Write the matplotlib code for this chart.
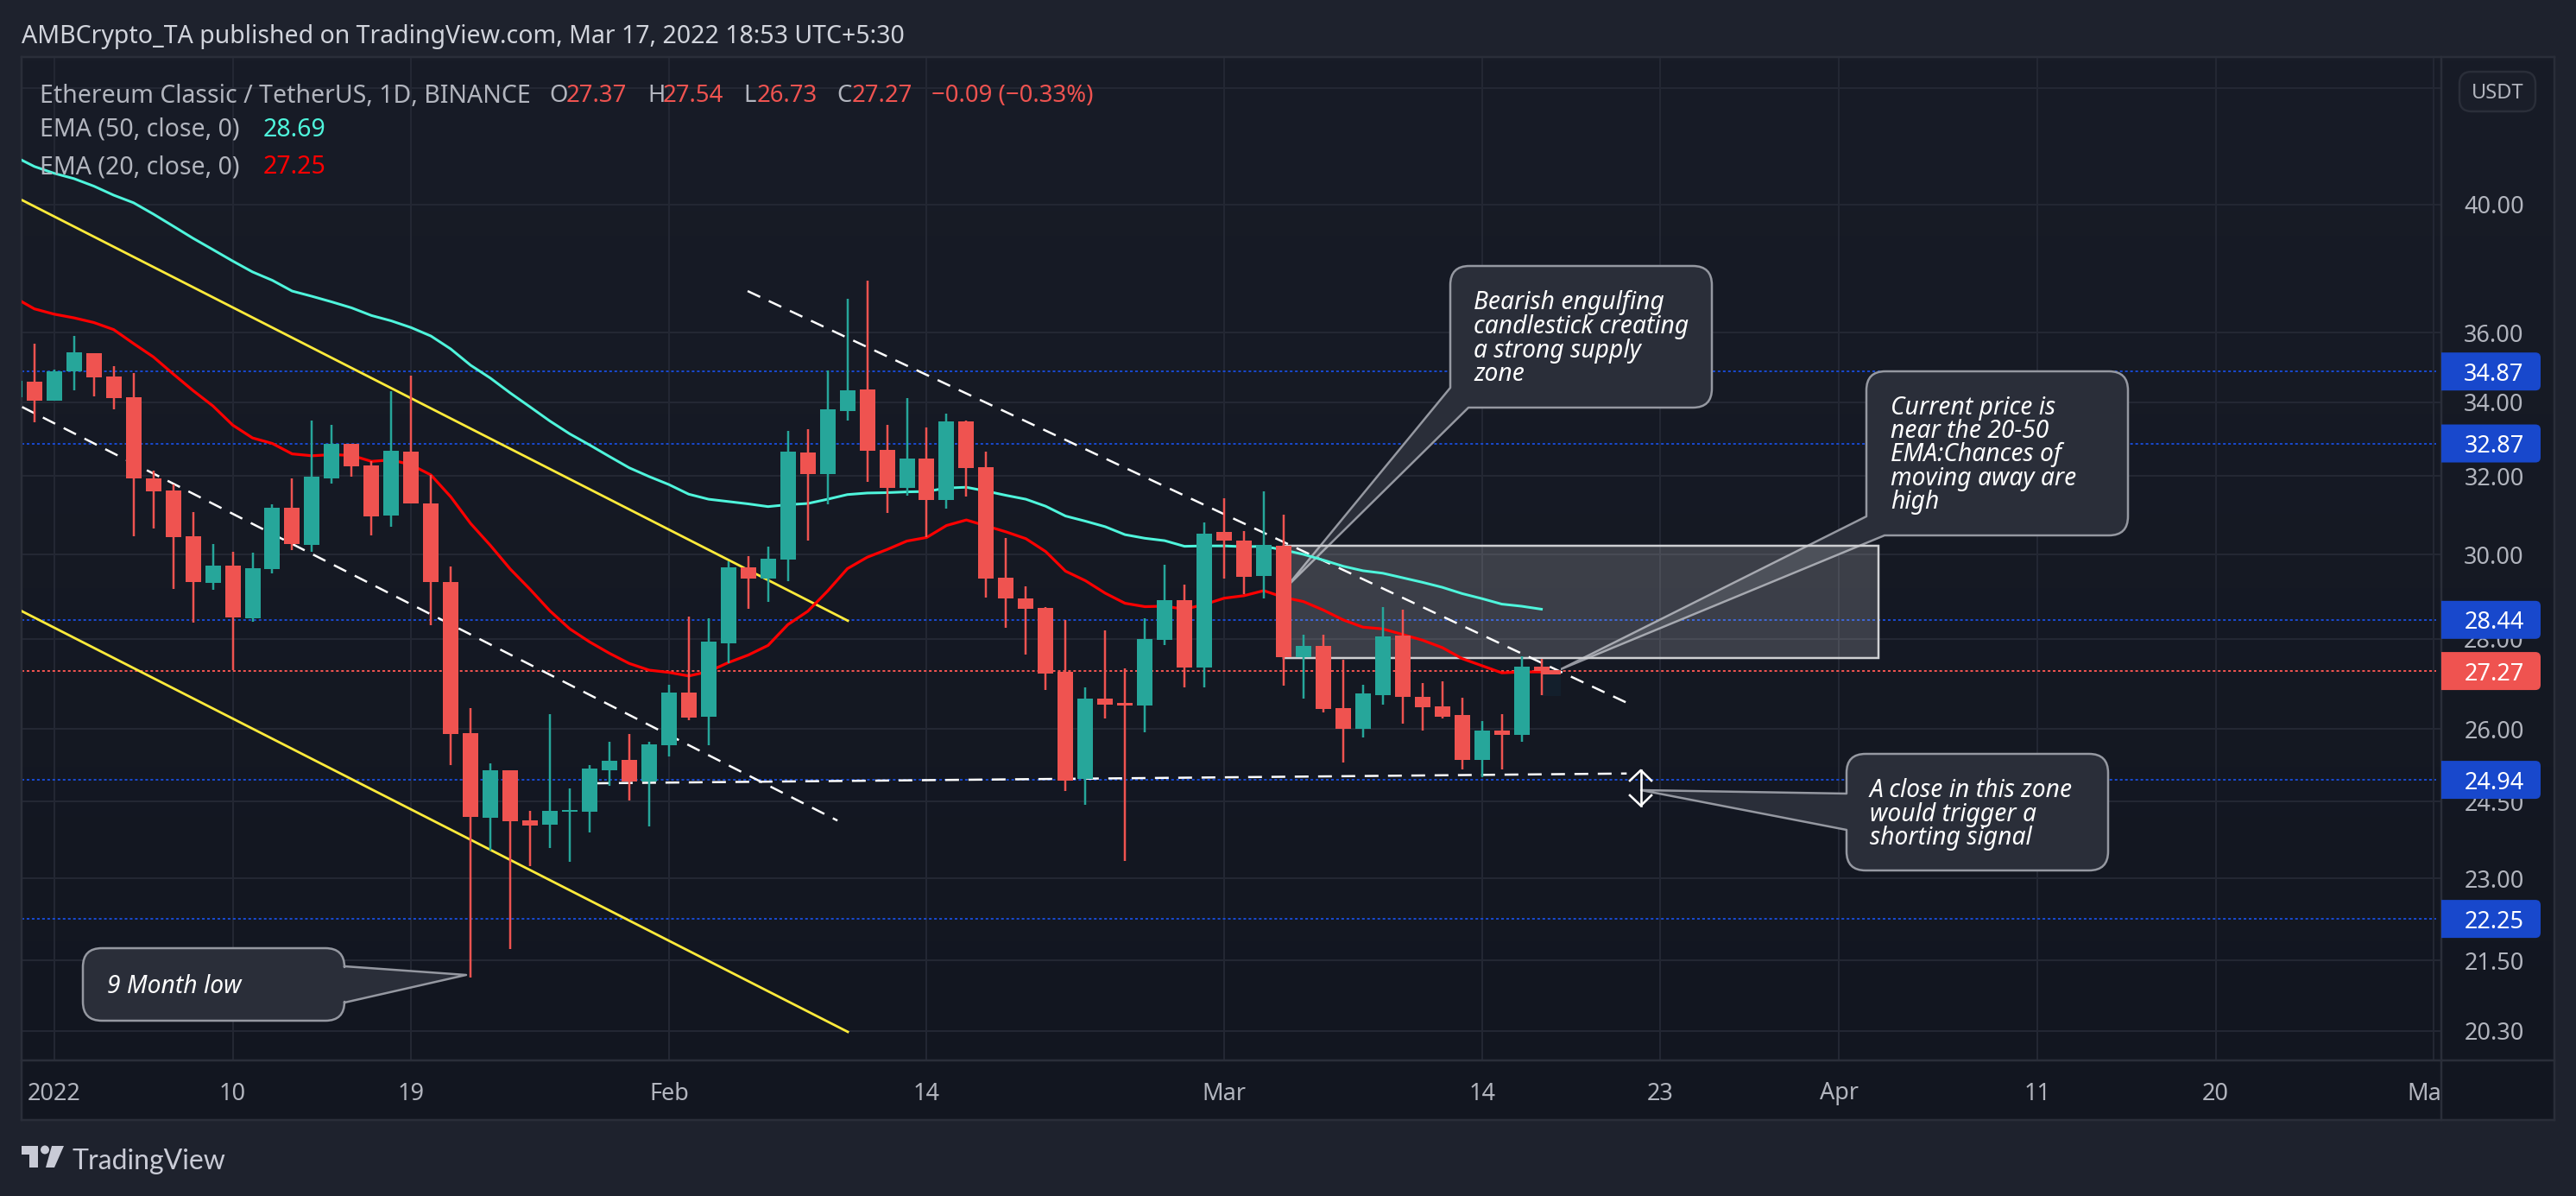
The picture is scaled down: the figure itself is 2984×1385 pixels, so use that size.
import numpy as np
import matplotlib
matplotlib.use('Agg')
import matplotlib.pyplot as plt
from matplotlib.path import Path
from matplotlib.patches import PathPatch, Rectangle, Circle, Polygon
from matplotlib.transforms import Affine2D, IdentityTransform
from matplotlib.ticker import NullLocator, NullFormatter
from matplotlib.lines import Line2D

# ---------- data ----------
days = list(range(-2, 76))
opens = [34.15,34.59,34.05,34.87,35.41,34.72,34.15,31.95,31.63,30.47,29.32,29.74,28.47,29.64,31.17,30.25,31.95,32.85,32.28,30.99,32.66,31.30,29.34,25.92,24.18,25.14,24.13,24.04,24.29,24.30,25.14,25.36,24.91,25.66,26.80,
         26.27,27.90,29.70,29.41,29.89,32.62,32.05,33.76,34.36,32.70,31.69,32.47,31.38,33.47,32.23,29.45,28.95,28.71,27.25,24.96,26.66,26.56,26.51,27.97,28.91,27.35,30.57,30.35,29.49,30.22,27.58,27.84,26.46,26.00,26.73,28.08,26.70,26.49,26.30,25.36,25.97,25.88,27.37]
highs = [34.9,35.68,34.92,35.91,35.41,35.02,34.82,32.15,31.79,31.06,30.27,30.08,30.05,31.26,31.93,33.50,33.38,32.87,32.40,34.31,34.75,32.04,29.72,26.45,25.28,25.14,24.32,26.32,24.77,25.25,25.74,25.90,25.74,26.96,28.51,
         28.48,29.84,29.97,30.20,33.20,33.26,34.91,37.02,37.57,33.37,34.12,33.30,33.69,33.49,32.65,30.42,29.24,28.75,28.43,26.91,28.20,27.32,28.48,29.76,29.28,30.80,31.43,30.60,31.61,31.00,28.10,28.10,27.52,26.97,28.74,28.68,27.00,27.04,26.67,26.17,26.33,27.60,27.54]
lows = [34.0,33.45,34.05,34.34,34.17,33.81,30.47,30.66,29.18,28.38,29.14,27.29,28.40,29.55,30.12,30.08,31.81,31.99,30.49,30.69,31.30,28.32,25.25,21.20,23.53,21.71,23.24,23.59,23.32,23.89,24.81,24.52,24.01,25.43,26.19,
        25.66,27.44,28.70,28.87,29.35,30.35,31.27,33.50,31.85,31.05,31.49,30.43,31.15,31.47,28.96,28.25,27.65,26.84,24.72,24.44,26.23,23.34,25.94,27.85,26.91,26.91,29.42,29.05,28.94,26.95,26.66,26.36,25.29,25.82,26.52,26.12,25.97,26.23,25.16,24.99,25.15,25.74,26.73]
closes = [34.6,34.05,34.87,35.43,34.70,34.12,31.93,31.61,30.44,29.34,29.74,28.49,29.68,31.17,30.27,31.99,32.85,32.26,30.97,32.68,31.30,29.34,25.90,24.19,25.14,24.11,24.02,24.32,24.33,25.17,25.34,24.91,25.68,26.80,26.25,
          27.93,29.70,29.41,29.91,32.65,32.05,33.80,34.34,32.68,31.69,32.47,31.38,33.47,32.21,29.43,28.95,28.69,27.21,24.92,26.66,26.53,26.50,27.99,28.91,27.35,30.52,30.35,29.47,30.24,27.58,27.84,26.44,26.00,26.77,28.06,26.69,26.47,26.27,25.36,25.97,25.88,27.36,27.27]
ema50 = [41.6,41.26,41.03,40.85,40.60,40.30,40.05,39.68,39.29,38.90,38.54,38.18,37.84,37.58,37.25,37.09,36.92,36.74,36.51,36.35,36.15,35.90,35.52,35.05,34.68,34.26,33.87,33.48,33.13,32.83,32.52,32.22,31.99,31.78,31.53,
         31.40,31.34,31.28,31.21,31.26,31.29,31.40,31.52,31.56,31.57,31.59,31.60,31.69,31.71,31.61,31.50,31.40,31.22,30.97,30.84,30.70,30.50,30.41,30.35,30.21,30.22,30.22,30.20,30.21,30.12,30.01,29.87,29.72,29.61,29.55,29.44,29.33,29.21,29.06,28.94,28.81,28.76,28.69]
ema20 = [37.05,36.71,36.55,36.44,36.30,36.09,35.68,35.29,34.80,34.33,33.90,33.37,33.02,32.87,32.59,32.54,32.57,32.55,32.39,32.43,32.30,32.03,31.46,30.78,30.23,29.65,29.16,28.65,28.23,27.93,27.67,27.44,27.29,27.24,27.16,
         27.26,27.46,27.63,27.85,28.33,28.64,29.12,29.66,29.94,30.13,30.34,30.43,30.73,30.87,30.72,30.57,30.40,30.08,29.60,29.37,29.07,28.83,28.75,28.76,28.69,28.80,28.95,29.01,29.13,28.97,28.87,28.67,28.44,28.27,28.23,28.10,27.97,27.80,27.55,27.39,27.23,27.25,27.25]

blue_levels = [34.87, 32.87, 28.44, 24.94, 22.25]
last_price = 27.27
price_ticks = [44, 40, 36, 34, 32, 30, 28, 26, 24.5, 23, 21.5, 20.3]
price_tick_labels = ['', '40.00', '36.00', '34.00', '32.00', '30.00', '28.00', '26.00', '24.50', '23.00', '21.50', '20.30']
time_ticks = [0, 9, 18, 31, 44, 59, 72, 81, 90, 100, 109]
time_tick_labels = ['2022', '10', '19', 'Feb', '14', 'Mar', '14', '23', 'Apr', '11', '20']

yellow_upper_d, yellow_upper_p = [-1.6, 40.02], [40.13, 28.42]
yellow_lower_d, yellow_lower_p = [-1.62, 40.02], [28.64, 20.28]
dash_lower_d, dash_lower_p = [-1.62, 39.5], [33.87, 24.12]
dash_upper_d, dash_upper_p = [34.97, 79.6], [37.25, 26.51]
dash_flat_d, dash_flat_p = [27.3, 79.3], [24.87, 25.07]
zone_d, zone_p = [62, 92], [27.56, 30.23]

# ---------- style ----------
W, H = 2984, 1385
BG = '#1e222d'
GRID = '#232733'
FRAME = '#2a2e39'
LABEL = '#b2b5be'
RED = '#ef5350'
TEAL = '#26a69a'
BLUE = '#1848cc'
FONT = ['Noto Sans', 'DejaVu Sans']
plt.rcParams['font.family'] = FONT
plt.rcParams['lines.scale_dashes'] = False
PT = 0.72

fig = plt.figure(figsize=(W/100, H/100), dpi=100, facecolor=BG)
tr_px = Affine2D().scale(1, -1).translate(0, H)
L, R, T, B = 25, 2828, 66, 1228

def fr(l, t, r, b):
    return [l/W, 1-b/H, (r-l)/W, (b-t)/H]

bg = fig.add_axes(fr(25, 66, 2959, 1297), zorder=-1)
bg.axis('off')
grad = np.linspace(0, 1, 256)[:, None, None]
top = np.array([24, 28, 39])/255; bot = np.array([18, 22, 32])/255
bg.imshow(np.clip(top*(1-grad)+bot*grad, 0, 1), aspect='auto', extent=(0, 1, 0, 1))

ax = fig.add_axes(fr(L, T, R, B), zorder=1)
ax.patch.set_alpha(0)
ax.set_yscale('log')
ax.set_xlim((L-62.8)/22.97, (R-62.8)/22.97)
ax.set_ylim(19.81, 45.14)
ax.set_axisbelow(True)
ax.yaxis.tick_right()
ax.set_yticks(price_ticks, price_tick_labels)
ax.yaxis.set_minor_locator(NullLocator())
ax.yaxis.set_minor_formatter(NullFormatter())
ax.set_xticks(time_ticks + [120], time_tick_labels + [''])
ax.tick_params(axis='both', length=0, colors=LABEL, labelsize=19.5)
ax.tick_params(axis='y', pad=61*PT)
ax.tick_params(axis='x', pad=35*PT)
for t in ax.get_yticklabels():
    t.set_ha('center'); t.set_va('center_baseline')
for t in ax.get_xticklabels():
    t.set_va('center_baseline')
ax.grid(True, color=GRID, lw=2*PT)
for s in ax.spines.values():
    s.set_color(FRAME); s.set_linewidth(2.5*PT)

# time-axis clipped last label
ax.text(1.0, -35/1162, 'Ma', transform=ax.transAxes, ha='right', va='center_baseline', color=LABEL, fontsize=19.5, clip_on=False)

# outer frame lines
for xs, ys in [([25, 25], [1228, 1297]), ([2828, 2828], [1228, 1297]), ([2959, 2959], [66, 1297]),
               ([25, 2959], [1297, 1297]), ([2828, 2959], [66, 66]), ([2828, 2959], [1228, 1228])]:
    fig.add_artist(Line2D(xs, ys, transform=tr_px, color=FRAME, lw=2.5*PT))

# price levels
dot = (0, (2.2, 2.1))
for lv in blue_levels:
    ax.axhline(lv, color=BLUE, lw=2*PT, ls=dot, zorder=2, xmax=0.998)
ax.axhline(last_price, color=RED, lw=2*PT, ls=dot, zorder=2, xmax=0.998)

# callouts
def callout(l, t, r, b, tip, side, a, c=None, rad=22):
    v = [(l+rad, t)]; k = [Path.MOVETO]
    def line(p): v.append(p); k.append(Path.LINETO)
    def curve(c_, p): v.extend([c_, p]); k.extend([Path.CURVE3, Path.CURVE3])
    line((r-rad, t)); curve((r, t), (r, t+rad))
    if side == 'right':
        line((r, a)); line(tip); line((r, c))
    line((r, b-rad)); curve((r, b), (r-rad, b))
    if side == 'corner':
        line((a, b)); line(tip); line((l, c))
    else:
        line((l+rad, b)); curve((l, b), (l, b-rad))
        if side == 'left':
            line((l, c)); line(tip); line((l, a))
    line((l, t+rad)); curve((l, t), (l+rad, t))
    ax.add_patch(PathPatch(Path(v, k), transform=tr_px, fc='#2a2e39', ec='#9598a1', lw=2.5*PT,
                           zorder=2.5, joinstyle='round', clip_on=True))

callout(1680, 308, 1983, 472, (1490, 680), 'corner', 1701, 449)
callout(2162, 430, 2465, 620, (1808, 775), 'corner', 2183, 598)
callout(2139, 873, 2442, 1008, (1901, 915), 'left', 919, 961)
callout(96, 1098, 399, 1182, (540, 1129), 'right', 1119, 1161)

def note(x, ys, lines):
    for y, s in zip(ys, lines):
        ax.text(x, y, s, transform=tr_px, color='white', fontsize=20.3, style='italic',
                ha='left', va='center_baseline', zorder=6, clip_on=False)

note(1707, [347, 375, 403, 430], ['Bearish engulfing', 'candlestick creating', 'a strong supply', 'zone'])
note(2190, [469, 496, 523, 551, 578], ['Current price is', 'near the 20-50', 'EMA:Chances of', 'moving away are', 'high'])
note(2166, [912, 940, 967], ['A close in this zone', 'would trigger a', 'shorting signal'])
note(124, [1139], ['9 Month low'])

# supply zone
ax.fill_between(zone_d, zone_p[0], zone_p[1], color='white', alpha=0.17, lw=0, zorder=2.7)
ax.plot([zone_d[0], zone_d[1], zone_d[1], zone_d[0]], [zone_p[1], zone_p[1], zone_p[0], zone_p[0]],
        color='#cfd0d3', lw=2.5*PT, zorder=2.8, solid_joinstyle='miter')

# hover marker beside the last candle
ax.add_patch(Rectangle((1786, 764), 22, 42, transform=tr_px, fc='#131f2c', ec='none', zorder=2.9))

# trend lines
ax.plot(yellow_upper_d, yellow_upper_p, color='#ffeb3b', lw=2.8*PT, zorder=3)
ax.plot(yellow_lower_d, yellow_lower_p, color='#ffeb3b', lw=2.8*PT, zorder=3)
dash = (0, (16*PT, 11*PT))
for d_, p_ in [(dash_lower_d, dash_lower_p), (dash_upper_d, dash_upper_p), (dash_flat_d, dash_flat_p)]:
    ax.plot(d_, p_, color='white', lw=2.5*PT, ls=dash, zorder=3, dash_capstyle='butt')

# EMAs
ax.plot(days, ema50, color='#4ff5dc', lw=3*PT, zorder=3.5)
ax.plot(days, ema20, color='#ff0000', lw=3.2*PT, zorder=3.6)
ax.add_patch(Rectangle((1786, 776), 22, 5, transform=tr_px, fc=RED, ec='none', zorder=3.7))

# candles
d_arr, o, h, l_, c = map(np.array, (days, opens, highs, lows, closes))
cols = np.where(c >= o, TEAL, RED)
ax.vlines(d_arr, l_, h, colors=cols, lw=2.5*PT, zorder=4.9)
ax.bar(d_arr, np.abs(c-o), bottom=np.minimum(o, c), width=18/22.97, color=cols, lw=0, zorder=5)

# double arrow
ax.plot([1900.7, 1900.7], [892, 933], transform=tr_px, color='white', lw=2.6*PT, zorder=6)
ax.plot([1888, 1900.7, 1913], [904, 892, 904], transform=tr_px, color='white', lw=2.6*PT, zorder=6)
ax.plot([1888, 1900.7, 1913], [921, 933, 921], transform=tr_px, color='white', lw=2.6*PT, zorder=6)

# price tags
fig.canvas.draw()
def tag(price, col):
    yc = ax.transData.transform((0, price))[1]
    l, r, b, t, rd = R, 2943, yc-22, yc+22, 6
    v = [(l, b), (r-rd, b), (r, b), (r, b+rd), (r, t-rd), (r, t), (r-rd, t), (l, t), (l, b)]
    k = [Path.MOVETO, Path.LINETO, Path.CURVE3, Path.CURVE3, Path.LINETO, Path.CURVE3, Path.CURVE3, Path.LINETO, Path.CLOSEPOLY]
    ax.add_patch(PathPatch(Path(v, k), transform=IdentityTransform(), fc=col, ec='none', zorder=7, clip_on=False))
    ax.text((2889-L)/(R-L), price, f'{price:.2f}', transform=ax.get_yaxis_transform(), color='white',
            fontsize=19.5, ha='center', va='center_baseline', zorder=8, clip_on=False)
for lv in blue_levels:
    tag(lv, BLUE)
tag(last_price, RED)

# USDT button
v = [(2849+14, 83), (2937-14, 83), (2937, 83), (2937, 97), (2937, 115), (2937, 129), (2923, 129), (2863, 129), (2849, 129), (2849, 115), (2849, 97), (2849, 83), (2863, 83)]
k = [Path.MOVETO, Path.LINETO, Path.CURVE3, Path.CURVE3, Path.LINETO, Path.CURVE3, Path.CURVE3, Path.LINETO, Path.CURVE3, Path.CURVE3, Path.LINETO, Path.CURVE3, Path.CURVE3]
fig.add_artist(PathPatch(Path(v, k), transform=tr_px, fc='#1a1e29', ec=FRAME, lw=2.5*PT))

def txt(x, y, s, col=LABEL, size=20.5, **kw):
    fig.text(x/W, 1-y/H, s, color=col, fontsize=size, ha=kw.pop('ha', 'left'), va='center_baseline', zorder=9, **kw)

txt(2893, 105, 'USDT', size=17, ha='center')
txt(25, 39, 'AMBCrypto_TA published on TradingView.com, Mar 17, 2022 18:53 UTC+5:30', col='#d1d4dc')
txt(46, 108, 'Ethereum Classic / TetherUS, 1D, BINANCE')
for x, s, col in [(636, 'O', LABEL), (656, '27.37', RED), (750, 'H', LABEL), (768, '27.54', RED), (861, 'L', LABEL),
                  (877, '26.73', RED), (969, 'C', LABEL), (987, '27.27', RED), (1079, '\u22120.09 (\u22120.33%)', RED)]:
    txt(x, 108, s, col=col, size=19.8)
txt(46, 147, 'EMA (50, close, 0)')
txt(305, 147, '28.69', col='#4ff5dc')
txt(46, 190, 'EMA (20, close, 0)')
txt(305, 190, '27.25', col='#ff0000')

# logo
LOGO = '#c9cbd6'
fig.add_artist(Polygon([(25, 1327), (44, 1327), (44, 1352), (34, 1352), (34, 1337), (25, 1337)], transform=tr_px, fc=LOGO, ec='none'))
fig.add_artist(Circle((52, 1331.5), 5, transform=tr_px, fc=LOGO, ec='none'))
fig.add_artist(Polygon([(60, 1327), (74, 1327), (63, 1352), (53, 1352)], transform=tr_px, fc=LOGO, ec='none'))
fig.text(83/W, 1-1342/H, 'TradingView', color=LOGO, fontsize=23, family=['Lato', 'DejaVu Sans'], va='center_baseline', zorder=9)

fig.savefig('out.png', dpi=100, facecolor=BG)
